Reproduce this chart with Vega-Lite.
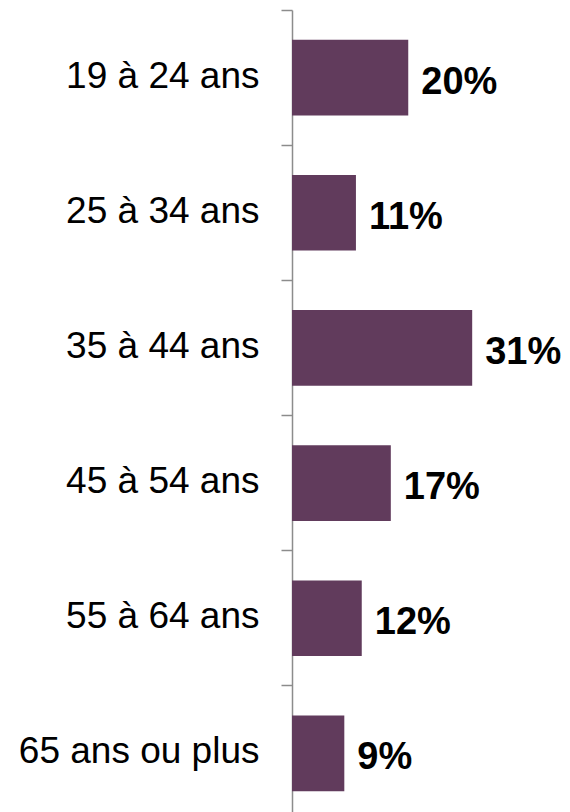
{
  "$schema": "https://vega.github.io/schema/vega-lite/v6.json",
  "width": 279,
  "height": 811,
  "autosize": {"type": "none"},
  "padding": {"left": 292, "top": 10, "right": 0, "bottom": 0},
  "background": "white",
  "config": {"view": {"stroke": null}},
  "data": {
    "values": [
      {"age": "19 à 24 ans", "pct": 0.20},
      {"age": "25 à 34 ans", "pct": 0.11},
      {"age": "35 à 44 ans", "pct": 0.31},
      {"age": "45 à 54 ans", "pct": 0.17},
      {"age": "55 à 64 ans", "pct": 0.12},
      {"age": "65 ans ou plus", "pct": 0.09}
    ]
  },
  "encoding": {
    "y": {
      "field": "age",
      "type": "nominal",
      "sort": null,
      "scale": {"paddingInner": 0, "paddingOuter": 0},
      "axis": {
        "title": null,
        "bandPosition": 0,
        "domainColor": "#8c8c8c",
        "domainWidth": 1.5,
        "tickColor": "#8c8c8c",
        "tickWidth": 1.5,
        "tickSize": 11,
        "labelPadding": 22,
        "labelOffset": -1,
        "labelFont": "Liberation Sans",
        "labelFontSize": 37,
        "labelColor": "#000000",
        "labelAlign": "right",
        "labelBaseline": "middle",
        "labelLimit": 400
      }
    },
    "x": {
      "field": "pct",
      "type": "quantitative",
      "scale": {"domain": [0, 0.48]},
      "axis": null
    }
  },
  "layer": [
    {
      "mark": {"type": "bar", "color": "#613b5c", "height": {"band": 0.56}}
    },
    {
      "mark": {
        "type": "text",
        "align": "left",
        "baseline": "middle",
        "dx": 13,
        "dy": 5,
        "font": "Liberation Sans",
        "fontSize": 38,
        "fontWeight": "bold",
        "color": "#000000"
      },
      "encoding": {
        "text": {"field": "pct", "type": "quantitative", "format": ".0%"}
      }
    }
  ]
}
